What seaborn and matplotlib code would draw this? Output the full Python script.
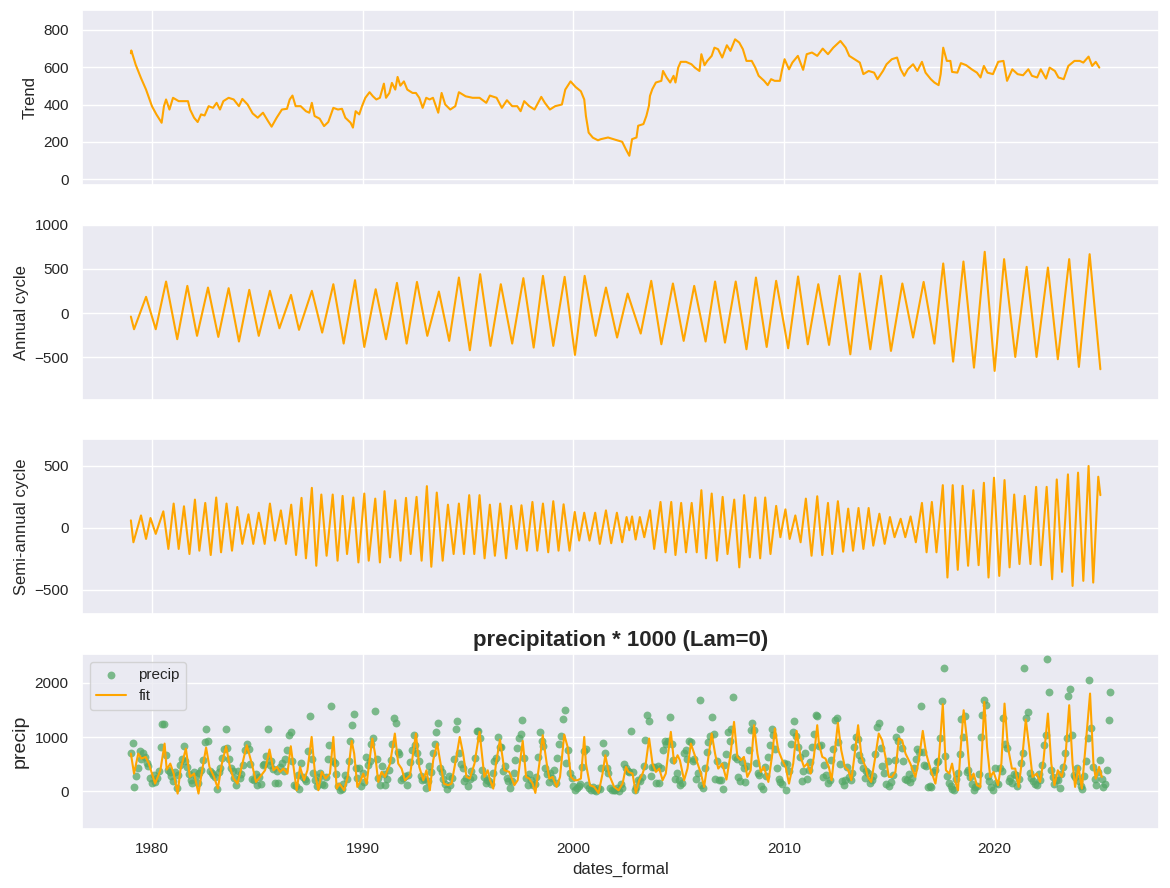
import numpy as np
import matplotlib
matplotlib.use("Agg")
import matplotlib.pyplot as plt
import seaborn as sns

# trend (decimal year, value)
trend_t = [1979.0, 1979.02, 1979.23, 1979.48, 1979.72, 1980.0, 1980.21, 1980.46, 1980.57, 1980.67, 1980.83,
           1981.0, 1981.27, 1981.52, 1981.71, 1981.81, 1982.0, 1982.17, 1982.33, 1982.5, 1982.69, 1982.9,
           1983.07, 1983.23, 1983.39, 1983.64, 1983.88, 1984.13, 1984.29, 1984.54, 1984.78, 1985.02, 1985.27,
           1985.51, 1985.68, 1985.92, 1986.17, 1986.41, 1986.54, 1986.67, 1986.82, 1987.06, 1987.31, 1987.47,
           1987.59, 1987.72, 1987.96, 1988.17, 1988.37, 1988.61, 1988.83, 1989.02, 1989.18, 1989.43, 1989.54,
           1989.67, 1989.84, 1989.97, 1990.13, 1990.33, 1990.49, 1990.65, 1990.82, 1991.01, 1991.11, 1991.27,
           1991.39, 1991.55, 1991.66, 1991.79, 1991.96, 1992.12, 1992.37, 1992.53, 1992.69, 1992.85, 1993.02,
           1993.18, 1993.34, 1993.59, 1993.75, 1993.92, 1994.16, 1994.4, 1994.57, 1994.89, 1995.22, 1995.55,
           1995.87, 1996.04, 1996.36, 1996.61, 1996.85, 1997.1, 1997.34, 1997.5, 1997.67, 1997.91, 1998.16,
           1998.48, 1998.65, 1998.89, 1999.14, 1999.46, 1999.62, 1999.87, 2000.11, 2000.36, 2000.52, 2000.6,
           2000.73, 2000.93, 2001.17, 2001.31, 2001.65, 2001.99, 2002.32, 2002.49, 2002.66, 2002.79, 2003.0,
           2003.08, 2003.33, 2003.47, 2003.59, 2003.64, 2003.75, 2003.92, 2004.18, 2004.26, 2004.43, 2004.6,
           2004.76, 2004.85, 2004.98, 2005.1, 2005.35, 2005.61, 2005.77, 2005.99, 2006.08, 2006.23, 2006.36,
           2006.57, 2006.7, 2006.87, 2007.07, 2007.29, 2007.46, 2007.68, 2007.88, 2008.05, 2008.22, 2008.47,
           2008.64, 2008.8, 2009.06, 2009.23, 2009.39, 2009.56, 2009.81, 2009.9, 2010.03, 2010.24, 2010.4,
           2010.66, 2010.91, 2011.08, 2011.33, 2011.58, 2011.84, 2012.09, 2012.34, 2012.68, 2012.93, 2013.1,
           2013.35, 2013.6, 2013.77, 2014.02, 2014.28, 2014.44, 2014.7, 2014.87, 2015.12, 2015.37, 2015.54,
           2015.71, 2015.88, 2016.13, 2016.33, 2016.55, 2016.72, 2016.97, 2017.14, 2017.34, 2017.44, 2017.56,
           2017.73, 2017.9, 2017.98, 2018.23, 2018.4, 2018.65, 2018.91, 2019.16, 2019.33, 2019.49, 2019.66,
           2019.92, 2020.17, 2020.42, 2020.59, 2020.84, 2021.09, 2021.35, 2021.6, 2021.77, 2022.02, 2022.19,
           2022.44, 2022.61, 2022.86, 2023.03, 2023.28, 2023.5, 2023.79, 2024.04, 2024.21, 2024.46, 2024.63,
           2024.8, 2024.97]
trend_v = [675, 690, 613, 542, 480, 391, 347, 302, 391, 427, 373,
           436, 418, 418, 418, 373, 329, 306, 347, 341, 391, 382,
           409, 373, 418, 436, 427, 391, 430, 400, 352, 329, 356,
           311, 281, 329, 373, 377, 427, 448, 391, 391, 364, 356,
           409, 338, 324, 284, 306, 382, 373, 377, 329, 302, 276,
           364, 347, 391, 436, 466, 444, 427, 436, 512, 436, 462,
           516, 480, 548, 501, 524, 480, 462, 462, 436, 382, 436,
           427, 436, 356, 462, 400, 373, 391, 466, 444, 436, 436,
           409, 448, 436, 382, 423, 391, 391, 364, 418, 391, 373,
           441, 409, 373, 391, 400, 480, 524, 494, 471, 427, 338,
           249, 222, 208, 214, 223, 211, 200, 161, 125, 214, 223,
           286, 295, 339, 393, 446, 482, 518, 527, 580, 545, 518,
           554, 518, 598, 629, 629, 616, 598, 580, 670, 611, 634,
           661, 705, 697, 652, 718, 688, 750, 732, 697, 634, 634,
           598, 554, 527, 504, 536, 527, 527, 580, 643, 589, 625,
           661, 586, 670, 679, 661, 700, 670, 705, 741, 705, 661,
           643, 625, 563, 580, 571, 536, 580, 616, 643, 652, 589,
           554, 589, 616, 580, 629, 571, 536, 518, 504, 563, 705,
           634, 634, 575, 571, 622, 611, 589, 571, 545, 607, 571,
           563, 629, 634, 527, 589, 563, 557, 589, 554, 545, 589,
           539, 598, 580, 545, 536, 607, 634, 634, 625, 657, 607,
           629, 598]

# annual cycle extrema (decimal year, value)
annual_t = [1979.0, 1979.15, 1979.72, 1980.18, 1980.67, 1981.2, 1981.68, 1982.14, 1982.66, 1983.15, 1983.64,
            1984.13, 1984.62, 1985.07, 1985.6, 1986.05, 1986.6, 1986.98, 1987.59, 1988.08, 1988.61, 1989.1,
            1989.64, 1990.08, 1990.62, 1991.11, 1991.63, 1992.09, 1992.58, 1993.07, 1993.62, 1994.11, 1994.57,
            1995.09, 1995.58, 1996.07, 1996.56, 1997.1, 1997.63, 1998.12, 1998.56, 1999.05, 1999.59, 2000.08,
            2000.54, 2001.06, 2001.55, 2002.08, 2002.58, 2003.2, 2003.7, 2004.18, 2004.73, 2005.24, 2005.74,
            2006.28, 2006.73, 2007.2, 2007.71, 2008.22, 2008.67, 2009.18, 2009.63, 2010.2, 2010.67, 2011.13,
            2011.63, 2012.14, 2012.64, 2013.15, 2013.6, 2014.1, 2014.61, 2015.08, 2015.62, 2016.13, 2016.63,
            2017.14, 2017.56, 2018.03, 2018.52, 2019.02, 2019.53, 2020.0, 2020.45, 2020.98, 2021.52, 2021.99,
            2022.53, 2023.0, 2023.54, 2024.0, 2024.51, 2025.02]
annual_v = [-38, -181, 185, -181, 358, -294, 309, -256, 290, -268, 283,
            -320, 264, -256, 253, -170, 207, -188, 253, -219, 328, -343,
            373, -381, 271, -294, 343, -343, 354, -256, 245, -313, 403,
            -418, 441, -369, 328, -343, 396, -388, 422, -369, 411, -471,
            422, -256, 290, -275, 222, -230, 366, -351, 336, -313, 309,
            -320, 358, -332, 358, -407, 403, -381, 366, -396, 415, -351,
            328, -358, 422, -464, 449, -407, 422, -426, 336, -275, 354,
            -343, 562, -547, 584, -615, 694, -652, 611, -494, 524, -494,
            516, -520, 611, -607, 667, -633]

# semi-annual cycle extrema (decimal year, value)
semi_t = [1979.0, 1979.12, 1979.48, 1979.72, 1979.93, 1980.18, 1980.54, 1980.78, 1981.03, 1981.27, 1981.52,
          1981.78, 1982.04, 1982.25, 1982.53, 1982.79, 1983.05, 1983.28, 1983.54, 1983.8, 1984.05, 1984.29,
          1984.58, 1984.81, 1985.07, 1985.35, 1985.6, 1985.84, 1986.12, 1986.36, 1986.61, 1986.84, 1987.1,
          1987.31, 1987.59, 1987.8, 1988.04, 1988.29, 1988.58, 1988.81, 1989.05, 1989.26, 1989.56, 1989.8,
          1990.08, 1990.29, 1990.6, 1990.82, 1991.04, 1991.3, 1991.55, 1991.8, 1992.06, 1992.28, 1992.56,
          1992.8, 1993.05, 1993.26, 1993.52, 1993.8, 1994.05, 1994.32, 1994.57, 1994.81, 1995.06, 1995.3,
          1995.55, 1995.79, 1996.04, 1996.28, 1996.53, 1996.81, 1997.05, 1997.31, 1997.54, 1997.8, 1998.06,
          1998.29, 1998.56, 1998.81, 1999.05, 1999.3, 1999.54, 1999.82, 2000.07, 2000.28, 2000.52, 2000.77,
          2001.04, 2001.26, 2001.55, 2001.8, 2002.07, 2002.32, 2002.53, 2002.66, 2002.79, 2002.96, 2003.16,
          2003.37, 2003.64, 2003.84, 2004.14, 2004.38, 2004.65, 2004.85, 2005.12, 2005.35, 2005.62, 2005.86,
          2006.08, 2006.3, 2006.57, 2006.82, 2007.09, 2007.32, 2007.64, 2007.88, 2008.11, 2008.38, 2008.64,
          2008.87, 2009.11, 2009.36, 2009.63, 2009.83, 2010.07, 2010.27, 2010.54, 2010.79, 2011.04, 2011.31,
          2011.58, 2011.82, 2012.09, 2012.29, 2012.56, 2012.81, 2013.05, 2013.28, 2013.54, 2013.77, 2014.02,
          2014.24, 2014.53, 2014.78, 2015.03, 2015.25, 2015.54, 2015.76, 2016.01, 2016.26, 2016.55, 2016.77,
          2017.02, 2017.24, 2017.54, 2017.76, 2018.01, 2018.25, 2018.48, 2018.74, 2018.99, 2019.24, 2019.49,
          2019.71, 2019.97, 2020.22, 2020.47, 2020.71, 2020.93, 2021.18, 2021.43, 2021.7, 2021.97, 2022.19,
          2022.47, 2022.73, 2022.95, 2023.2, 2023.48, 2023.7, 2023.96, 2024.21, 2024.46, 2024.68, 2024.92,
          2025.02]
semi_v = [60, -117, 100, -90, 79, -49, 133, -171, 196, -171, 174,
          -212, 228, -185, 201, -220, 245, -198, 196, -185, 168, -130,
          109, -130, 122, -130, 196, -103, 141, -130, 187, -220, 242,
          -247, 323, -307, 269, -226, 269, -266, 258, -212, 245, -280,
          277, -266, 236, -280, 296, -239, 223, -266, 242, -212, 250,
          -266, 337, -315, 285, -266, 187, -212, 196, -212, 264, -212,
          264, -247, 187, -226, 196, -247, 177, -171, 182, -185, 209,
          -185, 196, -198, 215, -185, 190, -185, 128, -103, 122, -103,
          122, -130, 141, -125, 122, -117, 87, -20, 92, -95, 87,
          -76, 141, -171, 209, -198, 209, -220, 201, -198, 201, -198,
          304, -247, 277, -266, 250, -212, 228, -320, 264, -239, 245,
          -247, 245, -212, 177, -76, 149, -90, 100, -117, 236, -226,
          255, -220, 201, -212, 215, -193, 155, -185, 160, -171, 160,
          -144, 114, -130, 87, -76, 73, -76, 92, -117, 201, -198,
          209, -198, 345, -402, 345, -340, 340, -307, 304, -302, 364,
          -402, 405, -389, 386, -320, 269, -293, 258, -293, 331, -302,
          331, -416, 391, -356, 432, -470, 446, -429, 500, -443, 413,
          264]

# monthly precipitation * 1000, Jan 1979 - Jul 2025
precip = [
    710, 895, 75, 280, 430, 735, 590, 700, 640, 520, 460, 250,
    160, 300, 170, 250, 380, 820, 1245, 1245, 660, 400, 360, 290,
    180, 360, 60, 300, 480, 600, 830, 560, 440, 310, 200, 150,
    350, 280, 150, 330, 400, 570, 900, 1150, 920, 380, 330, 300,
    270, 50, 360, 420, 620, 780, 1150, 790, 600, 420, 370, 250,
    110, 380, 240, 320, 480, 760, 870, 780, 500, 220, 200, 320,
    120, 260, 140, 480, 500, 650, 1150, 480, 550, 410, 150, 380,
    150, 440, 520, 380, 600, 760, 1030, 1100, 560, 120, 90, 300,
    40, 520, 270, 220, 180, 740, 1380, 600, 330, 200, 90, 260,
    340, 140, 120, 260, 590, 850, 1575, 560, 520, 320, 90, 20,
    40, 130, 300, 220, 560, 930, 1225, 1430, 420, 240, 420, 90,
    330, 170, 640, 480, 560, 880, 980, 1480, 600, 250, 110, 460,
    320, 120, 220, 400, 580, 870, 1355, 1260, 730, 680, 210, 250,
    280, 120, 300, 540, 760, 1045, 860, 700, 550, 290, 200, 230,
    60, 180, 470, 360, 700, 880, 1090, 1265, 420, 350, 220, 130,
    40, 280, 120, 250, 600, 1150, 1300, 700, 500, 420, 180, 250,
    90, 220, 380, 260, 620, 1110, 1120, 980, 400, 270, 150, 200,
    180, 140, 330, 560, 620, 1000, 820, 820, 370, 470, 250, 180,
    60, 190, 340, 570, 800, 990, 1060, 1305, 620, 250, 120, 320,
    200, 110, 130, 270, 640, 1100, 920, 830, 430, 320, 170, 340,
    240, 400, 150, 610, 880, 1020, 1335, 1490, 530, 760, 330, 250,
    90, 30, 60, 100, 140, 440, 750, 770, 110, 60, 30, 80,
    30, 10, 60, 40, 420, 890, 700, 420, 330, 60, 30, 20,
    20, 60, 10, 130, 60, 510, 420, 380, 360, 1110, 360, 30,
    80, 210, 190, 260, 470, 940, 1415, 1300, 280, 440, 450, 160,
    460, 160, 420, 760, 920, 880, 930, 1370, 880, 570, 230, 340,
    200, 120, 160, 700, 760, 590, 920, 900, 560, 600, 230, 340,
    1675, 110, 60, 420, 720, 900, 1020, 1370, 1060, 230, 560, 200,
    200, 40, 480, 690, 1100, 920, 1140, 1745, 630, 590, 260, 180,
    540, 430, 170, 460, 760, 1130, 1250, 1130, 520, 340, 300, 100,
    40, 450, 280, 640, 850, 1150, 1030, 770, 420, 230, 170, 130,
    520, 30, 500, 380, 880, 1090, 1300, 1010, 820, 630, 180, 380,
    700, 220, 400, 540, 820, 1060, 1400, 1390, 830, 850, 260, 480,
    300, 150, 200, 580, 780, 1310, 1360, 900, 500, 190, 120, 200,
    450, 270, 210, 340, 820, 1000, 960, 660, 570, 430, 240, 370,
    340, 160, 210, 280, 680, 1190, 1260, 790, 470, 340, 130, 550,
    90, 170, 300, 580, 1000, 920, 1150, 790, 560, 230, 200, 310,
    170, 240, 420, 600, 770, 720, 1575, 730, 490, 460, 70, 100,
    80, 350, 400, 540, 560, 980, 1665, 2280, 650, 290, 150, 100,
    50, 30, 220, 330, 690, 1335, 1000, 1395, 350, 390, 270, 130,
    30, 80, 90, 310, 1000, 1415, 1685, 1590, 280, 190, 70, 30,
    420, 150, 130, 420, 380, 1360, 880, 790, 190, 250, 160, 320,
    300, 90, 220, 520, 700, 2280, 1360, 1465, 330, 250, 180, 140,
    120, 310, 200, 480, 850, 1030, 2430, 1835, 400, 260, 130, 200,
    200, 60, 320, 450, 700, 990, 1760, 1895, 1045, 300, 260, 420,
    180, 90, 40, 280, 560, 990, 2060, 1175, 440, 220, 120, 350,
    570, 220, 80, 140, 390, 1315, 1835,
]
precip_t = 1979 + np.arange(len(precip)) / 12

# fitted curve turning points (decimal year, value)
fit_t = [1979.0, 1979.15, 1979.35, 1979.5, 1979.7, 1979.85, 1980.15, 1980.4, 1980.6, 1980.7, 1980.87,
         1981.03, 1981.22, 1981.35, 1981.61, 1981.8, 1982.0, 1982.21, 1982.37, 1982.57, 1982.73, 1982.95,
         1983.13, 1983.32, 1983.52, 1983.7, 1983.87, 1984.06, 1984.22, 1984.5, 1984.74, 1984.94, 1985.13,
         1985.37, 1985.58, 1985.77, 1985.93, 1986.08, 1986.24, 1986.43, 1986.59, 1986.74, 1986.87, 1987.03,
         1987.22, 1987.38, 1987.58, 1987.74, 1987.9, 1988.06, 1988.25, 1988.45, 1988.61, 1988.77, 1988.9,
         1989.12, 1989.29, 1989.48, 1989.6, 1989.75, 1989.88, 1990.03, 1990.19, 1990.46, 1990.59, 1990.74,
         1990.9, 1991.06, 1991.3, 1991.53, 1991.69, 1991.85, 1992.01, 1992.25, 1992.53, 1992.69, 1992.88,
         1993.03, 1993.19, 1993.35, 1993.54, 1993.7, 1993.86, 1994.06, 1994.22, 1994.45, 1994.61, 1994.77,
         1994.93, 1995.09, 1995.31, 1995.55, 1995.78, 1995.94, 1996.05, 1996.2, 1996.33, 1996.52, 1996.73,
         1996.96, 1997.2, 1997.36, 1997.6, 1997.76, 1997.91, 1998.07, 1998.2, 1998.39, 1998.55, 1998.74,
         1998.86, 1999.02, 1999.21, 1999.37, 1999.57, 1999.73, 1999.89, 2000.05, 2000.2, 2000.36, 2000.52,
         2000.6, 2000.79, 2000.99, 2001.2, 2001.39, 2001.52, 2001.71, 2001.94, 2002.15, 2002.34, 2002.5,
         2002.62, 2002.81, 2002.97, 2003.13, 2003.29, 2003.44, 2003.6, 2003.76, 2003.92, 2004.08, 2004.24,
         2004.39, 2004.63, 2004.79, 2004.95, 2005.06, 2005.26, 2005.42, 2005.58, 2005.74, 2005.9, 2006.06,
         2006.21, 2006.37, 2006.57, 2006.73, 2006.88, 2007.07, 2007.27, 2007.47, 2007.63, 2007.79, 2007.95,
         2008.1, 2008.26, 2008.42, 2008.58, 2008.74, 2008.9, 2009.05, 2009.26, 2009.45, 2009.57, 2009.73,
         2009.92, 2010.08, 2010.24, 2010.44, 2010.6, 2010.79, 2010.95, 2011.11, 2011.27, 2011.42, 2011.58,
         2011.66, 2011.82, 2011.97, 2012.13, 2012.26, 2012.42, 2012.56, 2012.72, 2012.89, 2013.05, 2013.2,
         2013.36, 2013.52, 2013.68, 2013.87, 2013.98, 2014.14, 2014.31, 2014.5, 2014.66, 2014.82, 2014.98,
         2015.13, 2015.29, 2015.45, 2015.61, 2015.77, 2016.0, 2016.24, 2016.4, 2016.59, 2016.75, 2016.95,
         2017.19, 2017.35, 2017.54, 2017.69, 2017.85, 2017.98, 2018.14, 2018.26, 2018.37, 2018.53, 2018.69,
         2018.85, 2019.0, 2019.16, 2019.32, 2019.51, 2019.64, 2019.79, 2019.95, 2020.16, 2020.32, 2020.47,
         2020.63, 2020.82, 2020.98, 2021.14, 2021.3, 2021.48, 2021.64, 2021.8, 2022.0, 2022.16, 2022.32,
         2022.53, 2022.69, 2022.84, 2023.0, 2023.19, 2023.35, 2023.54, 2023.7, 2023.82, 2023.98, 2024.14,
         2024.3, 2024.53, 2024.69, 2024.8, 2024.96, 2025.09]
fit_v = [695, 326, 695, 603, 633, 510, 141, 387, 879, 400, 510,
         326, -43, 387, 787, 264, 326, -43, 357, 806, 449, 264,
         49, 510, 830, 449, 234, 141, 387, 849, 510, 172, 264,
         387, 769, 387, 449, 357, 418, 326, 830, 387, 18, 449,
         203, 387, 1002, 326, 18, 357, 234, 326, 1002, 49, 141,
         18, 264, 929, 695, 80, 172, 326, 141, 972, 695, 172,
         357, 264, 510, 1064, 510, 418, 203, 295, 1064, 449, 203,
         387, 18, 572, 879, 510, 141, 111, 141, 633, 1002, 695,
         264, 234, 510, 1095, 264, 387, 203, 49, 510, 953, 387,
         357, 111, 203, 929, 264, 234, 141, -31, 510, 1033, 510,
         234, 264, 80, 264, 1045, 818, 264, 203, 203, 234, 1002,
         510, 111, 80, -31, 326, 664, 295, 80, 18, 141, 449,
         357, 326, -31, 203, 326, 510, 972, 510, 357, 418, 203,
         326, 1095, 510, 664, 572, 203, 418, 879, 695, 510, 326,
         80, 510, 1064, 695, 418, 510, 215, 695, 1279, 633, 572,
         633, 264, 387, 1218, 695, 357, 449, 172, 695, 1156, 756,
         572, 449, 141, 510, 1113, 633, 449, 510, 326, 633, 1218,
         879, 633, 603, 449, 203, 756, 1261, 756, 449, 387, 203,
         695, 1218, 633, 449, 264, 172, 572, 1064, 941, 633, 264,
         264, 357, 972, 941, 695, 510, 264, 572, 1113, 695, 418,
         141, 572, 1605, 387, 326, 510, 172, 18, 695, 1494, 941,
         203, 326, 111, 80, 1648, 818, 264, 357, 111, 510, 1617,
         818, 418, 418, 80, 572, 1322, 818, 264, 326, 172, 572,
         1433, 510, 111, 387, 264, 572, 1587, 510, 80, 449, 49,
         756, 1802, 510, 234, 449, 264]

sns.set_theme(style="darkgrid", color_codes=True)
plt.rcParams['font.family'] = ['Liberation Sans', 'DejaVu Sans']

fig, axes = plt.subplots(4, 1, figsize=(11.7, 8.88), dpi=100, sharex=True)
fig.subplots_adjust(left=0.070, right=0.991, top=0.9887, bottom=0.0664, hspace=0.227)

sns.lineplot(x=trend_t, y=trend_v, color='orange', ax=axes[0])
axes[0].set_ylabel('Trend')
axes[0].set_ylim(-32, 907)
axes[0].set_yticks([0, 200, 400, 600, 800])

sns.lineplot(x=annual_t, y=annual_v, color='orange', ax=axes[1])
axes[1].set_ylabel('Annual cycle')
axes[1].set_ylim(-977, 1000)
axes[1].set_yticks([-500, 0, 500, 1000])

sns.lineplot(x=semi_t, y=semi_v, color='orange', ax=axes[2])
axes[2].set_ylabel('Semi-annual cycle')
axes[2].set_ylim(-700, 715)
axes[2].set_yticks([-500, 0, 500])

ax = axes[3]
sns.scatterplot(x=precip_t, y=precip, color='g', alpha=0.75, s=32, linewidth=0, label='precip', ax=ax)
sns.lineplot(x=fit_t, y=fit_v, color='orange', label='fit', ax=ax)
ax.set_title('precipitation * 1000 (Lam=0)', fontsize=16, fontweight='bold')
ax.set_ylabel('precip', fontsize=14)
ax.set_xlabel('dates_formal')
ax.set_ylim(-697, 2530)
ax.set_yticks([0, 1000, 2000])
ax.set_xticks([1980, 1990, 2000, 2010, 2020])
ax.legend(loc='upper left')

fig.savefig('out.png', dpi=100)
